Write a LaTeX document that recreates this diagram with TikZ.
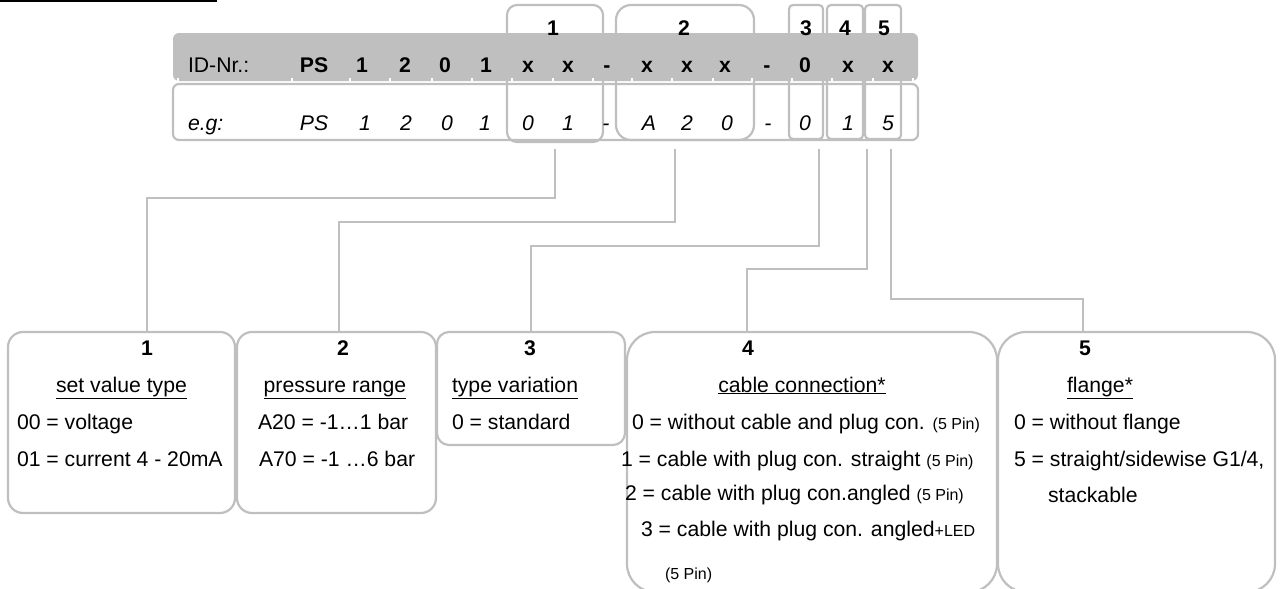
\documentclass[tikz,border=0pt]{standalone}
\usepackage{fontspec}
\setmainfont{Liberation Sans}
\definecolor{lg}{HTML}{BFBFBF}
\newcommand\mfs{\fontsize{21.2pt}{24pt}\selectfont}
\newcommand\sfs{\fontsize{16pt}{18pt}\selectfont}
\begin{document}
\begin{tikzpicture}[x=1pt,y=-1pt,
  box/.style={draw=lg, line width=2.2pt, inner sep=0pt, outer sep=0pt},
  conn/.style={draw=lg, line width=1.8pt},
  txt/.style={inner sep=0pt, outer sep=0pt, anchor=base west, font=\mfs},
  ctr/.style={inner sep=0pt, outer sep=0pt, anchor=base, font=\mfs},
  tick/.style={draw=white, line width=1.4pt}]
\useasboundingbox (0,0) rectangle (1280,589);
\clip (0,0) rectangle (1280,589);
% top black rule
\draw[line width=1.6pt] (0,0.8) -- (217,0.8);
% top label boxes
\node[box, rounded corners=10pt, minimum width=96pt, minimum height=137pt] (t1) at (555,73.5) {};
\node[box, rounded corners=15pt, minimum width=138pt, minimum height=135pt] (t2) at (685,72.5) {};
\node[box, rounded corners=4pt, minimum width=34pt, minimum height=134pt] (t3) at (806,72) {};
\node[box, rounded corners=4pt, minimum width=36pt, minimum height=134pt] (t4) at (845,72) {};
\node[box, rounded corners=4pt, minimum width=36pt, minimum height=134pt] (t5) at (883,72) {};
% header bar
\node[fill=lg, draw=none, rounded corners=6pt, inner sep=0pt, minimum width=745pt, minimum height=48pt] (hdr) at (545.5,57) {};
% example row
\node[box, rounded corners=6pt, minimum width=745pt, minimum height=56pt] (ex) at (545.5,112) {};
% ticks
\foreach \x in {178,292,350,390,432,472,512,553,593,632,672,713,752,792,832,873,913}
  \draw[tick] (\x,77.5) -- (\x,81);
% top labels
\node[ctr, font=\mfs\bfseries] (l1) at (553,35) {1};
\node[ctr, font=\mfs\bfseries] (l2) at (684,35) {2};
\node[ctr, font=\mfs\bfseries] (l3) at (806,35) {3};
\node[ctr, font=\mfs\bfseries] (l4) at (845,35) {4};
\node[ctr, font=\mfs\bfseries] (l5) at (884,35) {5};
% header text
\node[txt] (idnr) at (188,72) {ID-Nr.:};
\foreach \t/\x [count=\i] in {PS/314,1/362,2/405,0/445,1/486,x/528,x/568,-/607,x/647,x/687,x/725,-/767,0/805,x/848,x/888}
  \node[ctr, font=\mfs\bfseries] (h\i) at (\x,72) {\t};
% example text
\node[txt, font=\mfs\itshape] (eg) at (188,130) {e.g:};
\foreach \t/\x [count=\i] in {PS/314,1/365,2/406,0/447,1/485,0/528,1/568,-/606,A/649,2/687,0/727,-/768,0/805,1/848,5/888}
  \node[ctr, font=\mfs\itshape] (g\i) at (\x,130) {\t};
% bottom boxes
\node[box, rounded corners=15pt, minimum width=227pt, minimum height=181pt] (b1) at (121.5,422.5) {};
\node[box, rounded corners=15pt, minimum width=199pt, minimum height=181pt] (b2) at (336.5,422.5) {};
\node[box, rounded corners=12pt, minimum width=188pt, minimum height=113pt] (b3) at (531,388.5) {};
\node[box, rounded corners=28pt, minimum width=370pt, minimum height=260pt] (b4) at (812,462) {};
\node[box, rounded corners=28pt, minimum width=277pt, minimum height=260pt] (b5) at (1136.5,462) {};
% connector ends
\coordinate (s1) at (555,149); \coordinate (e1) at (147,332);
\coordinate (s2) at (675,149); \coordinate (e2) at (339,332);
\coordinate (s3) at (819,149); \coordinate (e3) at (531,332);
\coordinate (s4) at (867,149); \coordinate (e4) at (747,332);
\coordinate (s5) at (891,149); \coordinate (e5) at (1083,332);
\draw[conn] (s1) -- ++(0,49) -| (e1);
\draw[conn] (s2) -- ++(0,73) -| (e2);
\draw[conn] (s3) -- ++(0,97) -| (e3);
\draw[conn] (s4) -- ++(0,120) -| (e4);
\draw[conn] (s5) -- ++(0,150) -| (e5);
% box 1
\node[ctr, font=\mfs\bfseries] (n1) at (147,355) {1};
\node[ctr] (hd1) at (121.5,392) {\underline{set value type}};
\node[txt] (r11) at (17,429) {00 = voltage};
\node[txt] (r12) at (17,466) {01 = current 4 - 20mA};
% box 2
\node[ctr, font=\mfs\bfseries] (n2) at (343,355) {2};
\node[ctr] (hd2) at (335,392) {\underline{pressure range}};
\node[txt] (r21) at (258,429) {A20 = -1…1 bar};
\node[txt] (r22) at (259,466) {A70 = -1 …6 bar};
% box 3
\node[ctr, font=\mfs\bfseries] (n3) at (530,355) {3};
\node[txt] (hd3) at (452,392) {\underline{type variation}};
\node[txt] (r31) at (452,429) {0 = standard};
% box 4
\node[ctr, font=\mfs\bfseries] (n4) at (748,355) {4};
\node[ctr] (hd4) at (802,392) {\underline{cable connection*}};
\node[txt] (r41) at (632,429) {0 = without cable and plug con. {\sfs (5 Pin)}};
\node[txt] (r42) at (621,466) {1 = cable with plug con. straight {\sfs (5 Pin)}};
\node[txt] (r43) at (625,500) {2 = cable with plug con.angled {\sfs (5 Pin)}};
\node[txt] (r44) at (641,536) {3 = cable with plug con. angled{\sfs +LED}};
\node[txt, font=\sfs] (r45) at (665,579) {(5 Pin)};
% box 5
\node[ctr, font=\mfs\bfseries] (n5) at (1085,355) {5};
\node[ctr] (hd5) at (1100,392) {\underline{flange*}};
\node[txt] (r51) at (1014,429) {0 = without flange};
\node[txt] (r52) at (1014,466) {5 = straight/sidewise G1/4,};
\node[txt] (r53) at (1048,502) {stackable};
\end{tikzpicture}
\end{document}
